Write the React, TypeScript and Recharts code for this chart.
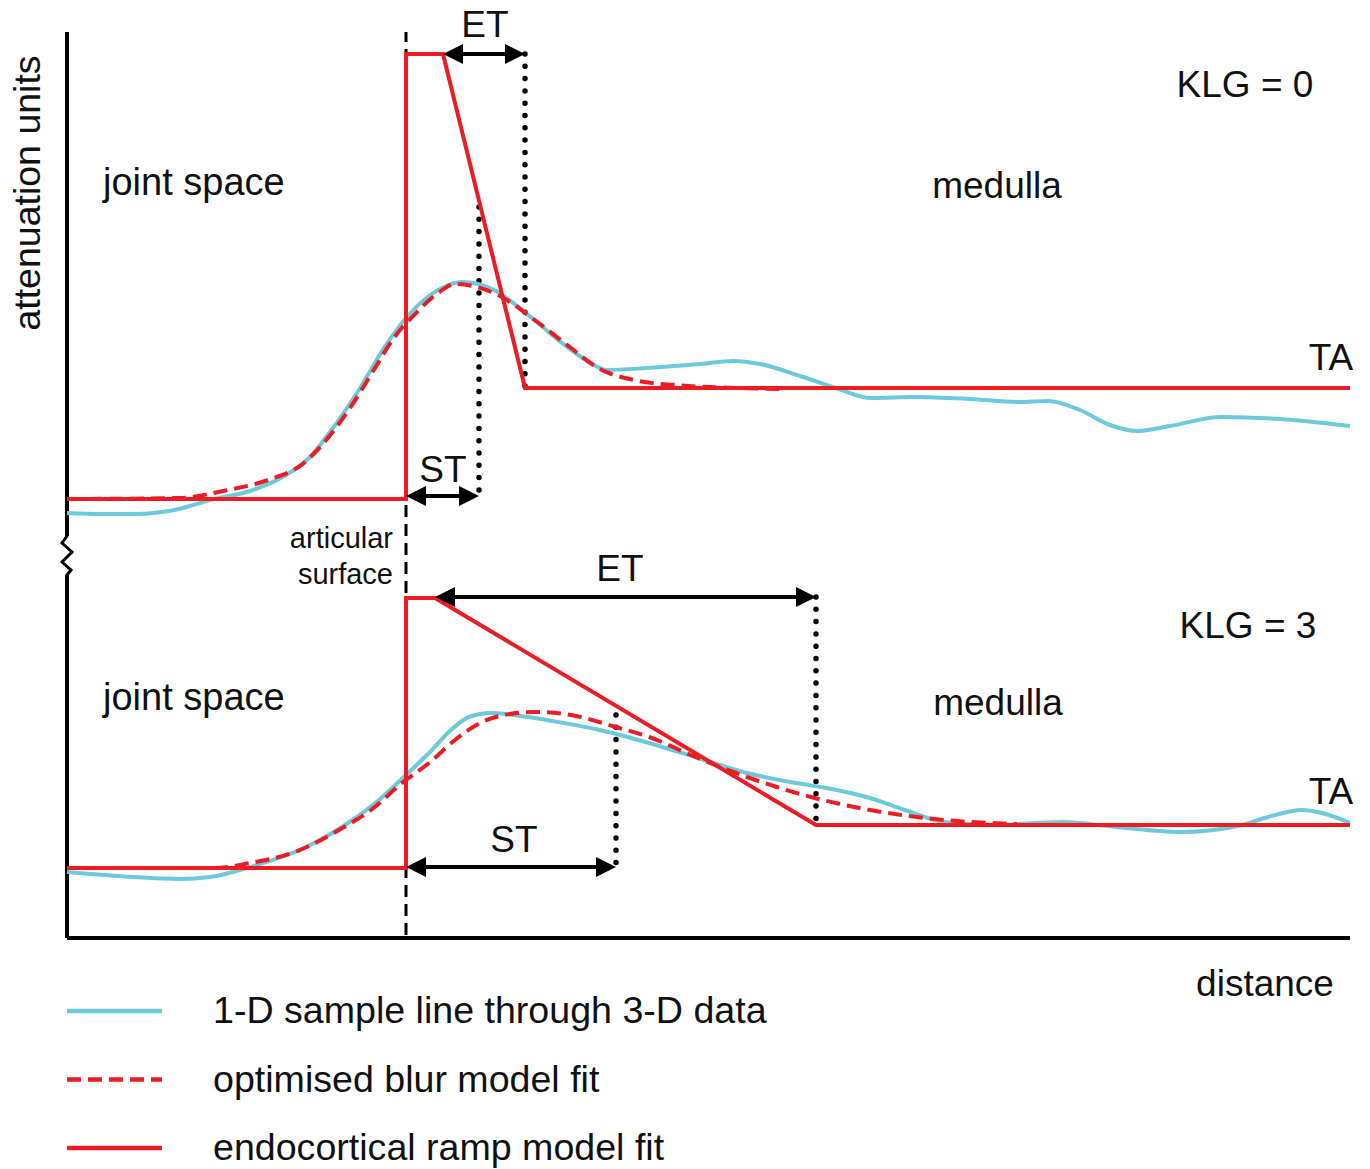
import React from 'react';
import { LineChart, Line, XAxis, YAxis, ReferenceLine, ReferenceDot, Legend } from 'recharts';

// distance runs 0..1283, attenuation 0..906 (schematic, no ticks)
const cyanTop = [
  [0, 425], [33, 424], [67, 424], [112, 429], [143, 438], [183, 447], [219, 463], [241, 479],
  [263, 506], [290, 545], [317, 590], [339, 620], [362, 642], [379, 652], [395, 656], [411, 654],
  [429, 647], [460, 624], [495, 595], [522, 576], [540, 568], [580, 570], [633, 574], [666, 577],
  [693, 574], [733, 562], [769, 550], [804, 540], [848, 541], [903, 539], [952, 536], [981, 537],
  [1013, 528], [1043, 513], [1070, 507], [1103, 512], [1154, 521], [1213, 519], [1283, 512],
];
const blurTop = [
  [0, 439], [112, 440], [156, 447], [201, 458], [237, 475], [254, 492], [281, 527], [308, 570],
  [326, 599], [348, 624], [371, 645], [388, 654], [406, 652], [433, 642], [469, 617], [504, 590],
  [531, 570], [567, 558], [621, 552], [673, 550], [715, 549],
];
const rampTop = [[0, 439], [339, 439], [339, 884], [376, 884], [458, 550], [1283, 550]];

const cyanBottom = [
  [0, 66], [67, 61], [112, 59], [143, 61], [183, 71], [237, 90], [281, 115], [312, 138],
  [339, 163], [362, 185], [384, 208], [402, 221], [424, 225], [446, 223], [491, 216], [533, 208],
  [582, 195], [631, 180], [680, 165], [729, 155], [754, 151], [803, 140], [838, 128], [877, 116],
  [926, 113], [995, 116], [1049, 111], [1113, 106], [1171, 112], [1201, 121], [1235, 128],
  [1255, 125], [1283, 115],
];
const blurBottom = [
  [0, 70], [147, 70], [183, 75], [228, 86], [272, 108], [304, 128], [335, 155], [362, 175],
  [388, 198], [415, 216], [437, 223], [469, 226], [504, 223], [549, 211], [582, 201], [631, 180],
  [680, 161], [744, 141], [803, 128], [877, 118], [950, 114],
];
const rampBottom = [[0, 70], [339, 70], [339, 340], [368, 340], [749, 113], [1283, 113]];

const surfaceX = 339;
// [x, from, to]
const dottedLines = [[458, 884, 550], [412, 731, 440], [749, 341, 113], [549, 223, 71]];
// [from, to, y]
const arrows = [[376, 458, 884], [339, 412, 442], [368, 749, 341], [339, 549, 71]];
// [text, x, y, anchor, size]
const labels: [string, number, number, string, number][] = [
  ['ET', 418, 901, 'middle', 37],
  ['ST', 376, 456, 'middle', 37],
  ['KLG = 0', 1178, 841, 'middle', 37],
  ['joint space', 36, 743, 'start', 38],
  ['medulla', 930, 740, 'middle', 37],
  ['TA', 1264, 568, 'middle', 37],
  ['articular', 326, 390, 'end', 29],
  ['surface', 326, 354, 'end', 29],
  ['ET', 553, 357, 'middle', 37],
  ['KLG = 3', 1181, 300, 'middle', 37],
  ['joint space', 36, 228, 'start', 38],
  ['medulla', 931, 223, 'middle', 37],
  ['TA', 1264, 134, 'middle', 37],
  ['ST', 447, 86, 'middle', 37],
  ['distance', 1198, -58, 'middle', 37],
];
// y-axis break: zigzag points
const axisBreak = [[0, 402], [-5, 395], [5, 386], [-5, 376], [4, 368], [0, 363]];

const legendOrder = ['1-D sample line through 3-D data', 'optimised blur model fit', 'endocortical ramp model fit'];

const RED = '#ED1C24';
const CYAN = '#6DCADB';
const FONT = '"Liberation Sans", Arial, sans-serif';

const toPts = (arr: number[][], key: string) => arr.map(([x, y]) => ({ x, [key]: y }));

const DoubleArrow = (props: any) => {
  const { x1, x2, y1 } = props;
  const left = Math.min(x1, x2);
  const right = Math.max(x1, x2);
  const len = 20;
  const half = 10;
  return (
    <g>
      <line x1={left + len - 2} y1={y1} x2={right - len + 2} y2={y1} stroke="#000" strokeWidth={4} />
      <polygon points={`${left},${y1} ${left + len},${y1 - half} ${left + len},${y1 + half}`} fill="#000" />
      <polygon points={`${right},${y1} ${right - len},${y1 - half} ${right - len},${y1 + half}`} fill="#000" />
    </g>
  );
};

const DottedShape = (props: any) => {
  const { x1, y1, x2, y2 } = props;
  return (
    <line x1={x1} y1={y1} x2={x2} y2={y2} stroke="#000" strokeWidth={5.5}
      strokeLinecap="round" strokeDasharray="0 12.3" />
  );
};

const makeLabel = (text: string, anchor: string, size: number, rotate = false) => (props: any) => {
  const vb = props.viewBox || {};
  const cx = vb.x + (vb.width || 0) / 2;
  const cy = vb.y + (vb.height || 0) / 2;
  return (
    <text
      x={cx}
      y={cy}
      textAnchor={anchor as any}
      fontFamily={FONT}
      fontSize={size}
      fill="#111"
      transform={rotate ? `rotate(-90 ${cx} ${cy})` : undefined}
    >
      {text}
    </text>
  );
};

const renderLegend = (props: any) => {
  const items = (props.payload || [])
    .filter((e: any) => legendOrder.includes(e.value))
    .sort((a: any, b: any) => legendOrder.indexOf(a.value) - legendOrder.indexOf(b.value));
  return (
    <svg width={800} height={189}>
      {items.map((entry: any, i: number) => {
        const y = 31 + i * 68.5;
        return (
          <g key={entry.value}>
            <line
              x1={67}
              x2={162}
              y1={y}
              y2={y}
              stroke={entry.color}
              strokeWidth={4.5}
              strokeDasharray={entry.payload?.strokeDasharray}
            />
            <text x={213} y={y + 12} fontFamily={FONT} fontSize={37.6} fill="#111">
              {entry.value}
            </text>
          </g>
        );
      })}
    </svg>
  );
};

export default function App() {
  return (
    <div style={{ position: 'absolute', left: 0, top: 0, width: 1370, height: 1169, background: '#fff' }}>
      <LineChart width={1370} height={1169} margin={{ top: 32, right: 20, bottom: 231, left: 67 }}>
        <XAxis type="number" dataKey="x" domain={[0, 1283]} hide />
        <YAxis type="number" domain={[0, 906]} hide />

        {/* axes */}
        <ReferenceLine segment={[{ x: 0, y: 0 }, { x: 1283, y: 0 }]} stroke="#000" strokeWidth={4} ifOverflow="visible" />
        <ReferenceLine segment={[{ x: 0, y: 0 }, { x: 0, y: 363 }]} stroke="#000" strokeWidth={4} ifOverflow="visible" />
        <ReferenceLine segment={[{ x: 0, y: 402 }, { x: 0, y: 906 }]} stroke="#000" strokeWidth={4} ifOverflow="visible" />
        {axisBreak.slice(1).map((p, i) => (
          <ReferenceLine
            key={`zz${i}`}
            segment={[{ x: axisBreak[i][0], y: axisBreak[i][1] }, { x: p[0], y: p[1] }]}
            stroke="#000"
            strokeWidth={3}
            strokeLinecap="round"
            ifOverflow="visible"
          />
        ))}

        {/* articular surface */}
        <ReferenceLine
          segment={[{ x: surfaceX, y: 3 }, { x: surfaceX, y: 906 }]}
          stroke="#000"
          strokeWidth={3}
          strokeDasharray="12 7"
        />

        {dottedLines.map(([x, a, b], i) => (
          <ReferenceLine key={`dot${i}`} segment={[{ x, y: a }, { x, y: b }]} shape={DottedShape} />
        ))}

        <Line data={toPts(cyanTop, 'sample')} dataKey="sample" name="1-D sample line through 3-D data" type="monotone"
          stroke={CYAN} strokeWidth={4} dot={false} activeDot={false} isAnimationActive={false} />
        <Line data={toPts(blurTop, 'blur')} dataKey="blur" name="optimised blur model fit" type="monotone"
          stroke={RED} strokeWidth={4} strokeDasharray="14 7" dot={false} activeDot={false} isAnimationActive={false} />
        <Line data={toPts(rampTop, 'ramp')} dataKey="ramp" name="endocortical ramp model fit" type="linear"
          stroke={RED} strokeWidth={4} dot={false} activeDot={false} isAnimationActive={false} />

        <Line data={toPts(cyanBottom, 'sample3')} dataKey="sample3" legendType="none" type="monotone"
          stroke={CYAN} strokeWidth={4} dot={false} activeDot={false} isAnimationActive={false} />
        <Line data={toPts(blurBottom, 'blur3')} dataKey="blur3" legendType="none" type="monotone"
          stroke={RED} strokeWidth={4} strokeDasharray="14 7" dot={false} activeDot={false} isAnimationActive={false} />
        <Line data={toPts(rampBottom, 'ramp3')} dataKey="ramp3" legendType="none" type="linear"
          stroke={RED} strokeWidth={4} dot={false} activeDot={false} isAnimationActive={false} />

        {arrows.map(([a, b, y], i) => (
          <ReferenceLine key={`arr${i}`} segment={[{ x: a, y }, { x: b, y }]} shape={DoubleArrow} />
        ))}

        {labels.map(([t, x, y, anchor, size], i) => (
          <ReferenceDot key={`lab${i}`} x={x} y={y} r={0} fill="none" stroke="none" ifOverflow="visible"
            label={makeLabel(t, anchor, size)} />
        ))}
        <ReferenceDot x={-27} y={745} r={0} fill="none" stroke="none" ifOverflow="visible"
          label={makeLabel('attenuation units', 'middle', 37.5, true)} />

        <Legend
          layout="horizontal"
          verticalAlign="middle"
          align="center"
          content={renderLegend}
          wrapperStyle={{ left: 0, top: 980, width: 800, height: 189 }}
        />
      </LineChart>
    </div>
  );
}
